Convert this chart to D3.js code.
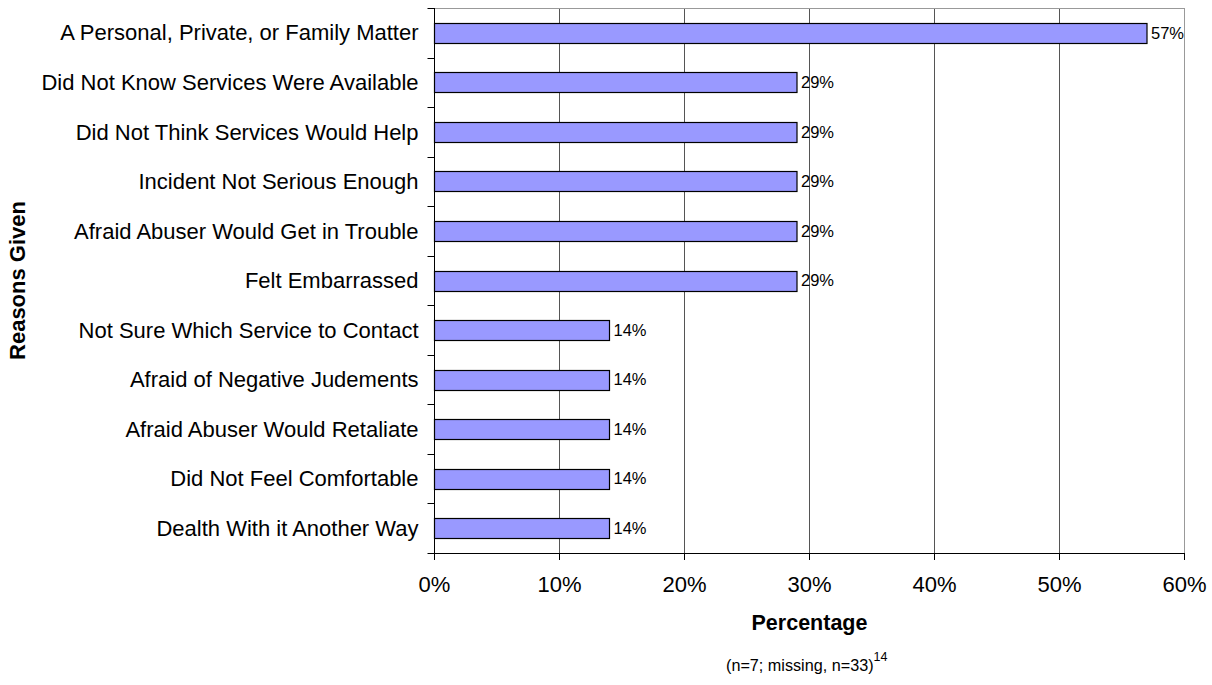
<!DOCTYPE html>
<html><head><meta charset="utf-8">
<script src="https://cdn.jsdelivr.net/npm/d3@7"></script>
<style>body{margin:0;background:#fff}svg{display:block;font-family:"Liberation Sans",Arial,sans-serif}</style>
</head><body><svg id="c" width="1212" height="685"></svg>
<script>
const categories = ["A Personal, Private, or Family Matter","Did Not Know Services Were Available","Did Not Think Services Would Help","Incident Not Serious Enough","Afraid Abuser Would Get in Trouble","Felt Embarrassed","Not Sure Which Service to Contact","Afraid of Negative Judements","Afraid Abuser Would Retaliate","Did Not Feel Comfortable","Dealth With it Another Way"];
const values = [57,29,29,29,29,29,14,14,14,14,14];
const xTicks = [0,10,20,30,40,50,60];

const svg = d3.select("#c");
const L=434.5, R=1184.5, T=8, B=553;
const x = d3.scaleLinear().domain([0,60]).range([L,R]);
const y = d3.scaleBand().domain(categories).range([T,B]);
const bh = 20;

// gridlines
svg.selectAll("line.g").data(xTicks.slice(1,-1)).join("line")
  .attr("x1",d=>x(d)).attr("x2",d=>x(d)).attr("y1",T).attr("y2",B)
  .attr("stroke","#555").attr("stroke-width",1);
// top & right border
svg.append("line").attr("x1",L).attr("x2",R).attr("y1",T+0.5).attr("y2",T+0.5).attr("stroke","#999");
svg.append("line").attr("x1",R).attr("x2",R).attr("y1",T).attr("y2",B).attr("stroke","#999");

// bars
svg.selectAll("rect.b").data(values).join("rect")
  .attr("x",x(0)).attr("y",(d,i)=>Math.round(y(categories[i])+y.bandwidth()/2-bh/2)+0.5)
  .attr("width",d=>x(d)-x(0)).attr("height",bh)
  .attr("fill","#9999FF").attr("stroke","#000").attr("stroke-width",1.2);

// value labels
svg.selectAll("text.v").data(values).join("text")
  .attr("x",d=>x(d)+4).attr("y",(d,i)=>y(categories[i])+y.bandwidth()/2)
  .attr("dy","0.35em").attr("font-size",16.5).attr("fill","#000").text(d=>d+"%");

// y axis
const yTicks = d3.range(categories.length+1).map(i=>T+i*y.step());
svg.append("line").attr("x1",L).attr("x2",L).attr("y1",T).attr("y2",B).attr("stroke","#000");
svg.selectAll("line.yt").data(yTicks).join("line")
  .attr("x1",L-7).attr("x2",L).attr("y1",d=>Math.round(d)+0.5).attr("y2",d=>Math.round(d)+0.5).attr("stroke","#000");
svg.selectAll("text.yl").data(categories).join("text")
  .attr("x",L-16).attr("y",d=>y(d)+y.bandwidth()/2).attr("dy","0.35em")
  .attr("text-anchor","end").attr("font-size",22).attr("fill","#000").text(d=>d);

// x axis
svg.append("line").attr("x1",L).attr("x2",R).attr("y1",B+0.5).attr("y2",B+0.5).attr("stroke","#000");
svg.selectAll("line.xt").data(xTicks).join("line")
  .attr("x1",d=>x(d)).attr("x2",d=>x(d)).attr("y1",B).attr("y2",B+7).attr("stroke","#000");
svg.selectAll("text.xl").data(xTicks).join("text")
  .attr("x",d=>x(d)).attr("y",B+31).attr("dy","0.35em").attr("text-anchor","middle")
  .attr("font-size",22).attr("fill","#000").text(d=>d+"%");

// titles
svg.append("text").attr("x",(L+R)/2).attr("y",622).attr("dy","0.35em").attr("text-anchor","middle")
  .attr("font-size",21.5).attr("font-weight","bold").text("Percentage");
svg.append("text").attr("transform",`translate(17,${(T+B)/2}) rotate(-90)`).attr("dy","0.35em")
  .attr("text-anchor","middle").attr("font-size",22).attr("font-weight","bold").text("Reasons Given");
const fn = svg.append("text").attr("x",726).attr("y",665).attr("dy","0.35em").attr("font-size",16.2);
fn.append("tspan").text("(n=7; missing, n=33)");
fn.append("tspan").attr("font-size",12.5).attr("dy","-0.75em").text("14");
</script></body></html>
